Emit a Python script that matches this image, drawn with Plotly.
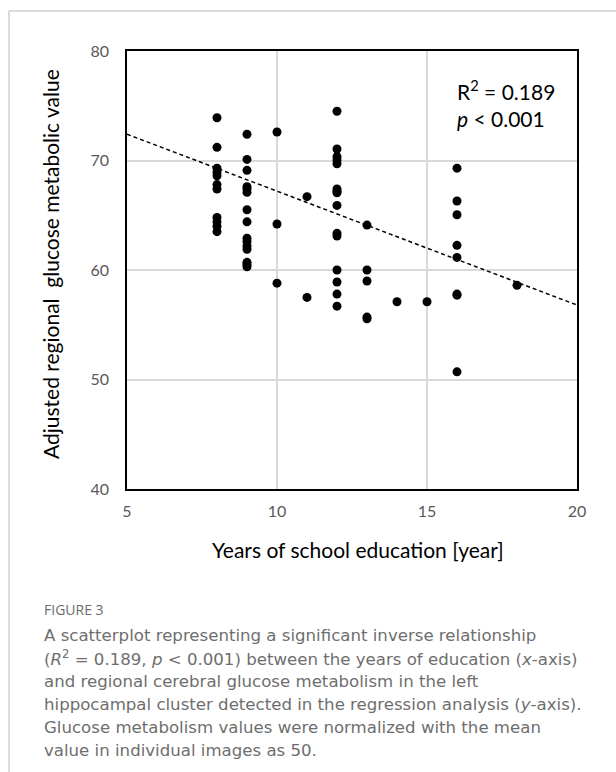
import plotly.graph_objects as go

# Years of school education and adjusted regional glucose metabolic value
years = (
    [8] * 11
    + [9] * 15
    + [10] * 3
    + [11] * 2
    + [12] * 15
    + [13] * 5
    + [14, 15]
    + [16] * 8
    + [18]
)
glucose = [
    # 8 years
    73.9, 71.2, 69.3, 68.9, 68.6, 67.8, 67.4, 64.8, 64.4, 64.0, 63.5,
    # 9 years
    72.4, 70.1, 69.1, 67.6, 67.4, 67.1, 65.5, 64.4, 62.9, 62.6, 62.2, 61.9, 60.7, 60.5, 60.3,
    # 10 years
    72.6, 64.2, 58.8,
    # 11 years
    66.7, 57.5,
    # 12 years
    74.5, 71.05, 70.35, 70.05, 69.7, 67.4, 67.2, 67.05, 65.9, 63.35, 63.1, 60.0, 58.9, 57.8, 56.7,
    # 13 years
    64.1, 60.0, 59.0, 55.7, 55.55,
    # 14, 15 years
    57.1, 57.1,
    # 16 years
    69.3, 66.3, 65.05, 62.25, 61.15, 57.8, 57.7, 50.7,
    # 18 years
    58.6,
]

# Linear regression line (value at each end of the x range)
trend_x = [5, 20]
trend_y = [72.4, 56.8]

x_ticks = [5, 10, 15, 20]
y_ticks = [40, 50, 60, 70, 80]
x_range = [5, 20]
y_range = [40, 80]

stat_text = "R<sup>2</sup> = 0.189<br><i>p</i> < 0.001"

figure_label = "FIGURE 3"
caption_lines = [
    "A scatterplot representing a significant inverse relationship",
    "(<i>R</i><sup>2</sup> = 0.189, <i>p</i> &lt; 0.001) between the years of education (<i>x</i>-axis)",
    "and regional cerebral glucose metabolism in the left",
    "hippocampal cluster detected in the regression analysis (<i>y</i>-axis).",
    "Glucose metabolism values were normalized with the mean",
    "value in individual images as 50.",
]

W, H = 616, 772
L, R, T, B = 127, 39, 51, 283

fig = go.Figure()
fig.add_trace(go.Scatter(
    x=trend_x, y=trend_y, mode="lines",
    line=dict(color="black", width=1.5, dash="4px,3px"),
    hoverinfo="skip", showlegend=False,
))
fig.add_trace(go.Scatter(
    x=years, y=glucose, mode="markers",
    marker=dict(color="black", size=9, line=dict(width=0)),
    showlegend=False,
))

tick_font = dict(family="Lato", size=16, color="#595959")
axis_style = dict(
    showgrid=True, gridcolor="#d9d9d9", gridwidth=1.5,
    zeroline=False, showline=True, mirror=True, linecolor="black", linewidth=1.5,
    ticks="outside", tickcolor="rgba(0,0,0,0)", tickfont=tick_font,
)

def px_x(px):
    return (px - L) / (W - L - R)

def px_y(py):
    return 1 - (py - T) / (H - T - B)

title_font = dict(family="Lato", size=21, color="black")
annotations = [
    dict(text="Years of school education [year]", x=px_x(358), y=px_y(549),
         xref="paper", yref="paper", showarrow=False, font=title_font,
         xanchor="center", yanchor="middle"),
    dict(text="Adjusted regional\u00a0 glucose metabolic value", x=px_x(50), y=px_y(264),
         xref="paper", yref="paper", showarrow=False, font=title_font, textangle=-90,
         xanchor="center", yanchor="middle"),
    dict(text=stat_text, x=px_x(455), y=px_y(104),
         xref="paper", yref="paper", showarrow=False, align="left",
         font=dict(family="Lato", size=21, color="black"),
         xanchor="left", yanchor="middle"),
    dict(text=figure_label, x=px_x(42), y=px_y(609),
         xref="paper", yref="paper", showarrow=False, align="left",
         font=dict(family="Open Sans", size=14, color="#6b6b6b"),
         xanchor="left", yanchor="middle"),
]
for i, line in enumerate(caption_lines):
    annotations.append(dict(
        text=line, x=px_x(42), y=px_y(635 + i * 23),
        xref="paper", yref="paper", showarrow=False, align="left",
        font=dict(family="DejaVu Sans", size=16.6, color="#6e6e6e"),
        xanchor="left", yanchor="middle",
    ))

# Card outline along the top and left edges
shapes = [
    dict(type="line", xref="paper", yref="paper", x0=px_x(9), x1=px_x(W), y0=px_y(11), y1=px_y(11),
         line=dict(color="#cfcfcf", width=1.5)),
    dict(type="line", xref="paper", yref="paper", x0=px_x(9), x1=px_x(9), y0=px_y(11), y1=px_y(H),
         line=dict(color="#cfcfcf", width=1.5)),
]

fig.update_layout(
    width=W, height=H,
    margin=dict(l=L, r=R, t=T, b=B),
    paper_bgcolor="white", plot_bgcolor="white",
    xaxis=dict(range=x_range, tickmode="array", tickvals=x_ticks, ticklen=7, **axis_style),
    yaxis=dict(range=y_range, tickmode="array", tickvals=y_ticks, ticklen=13, **axis_style),
    annotations=annotations, shapes=shapes,
    showlegend=False,
)

fig.write_html("out.html")
